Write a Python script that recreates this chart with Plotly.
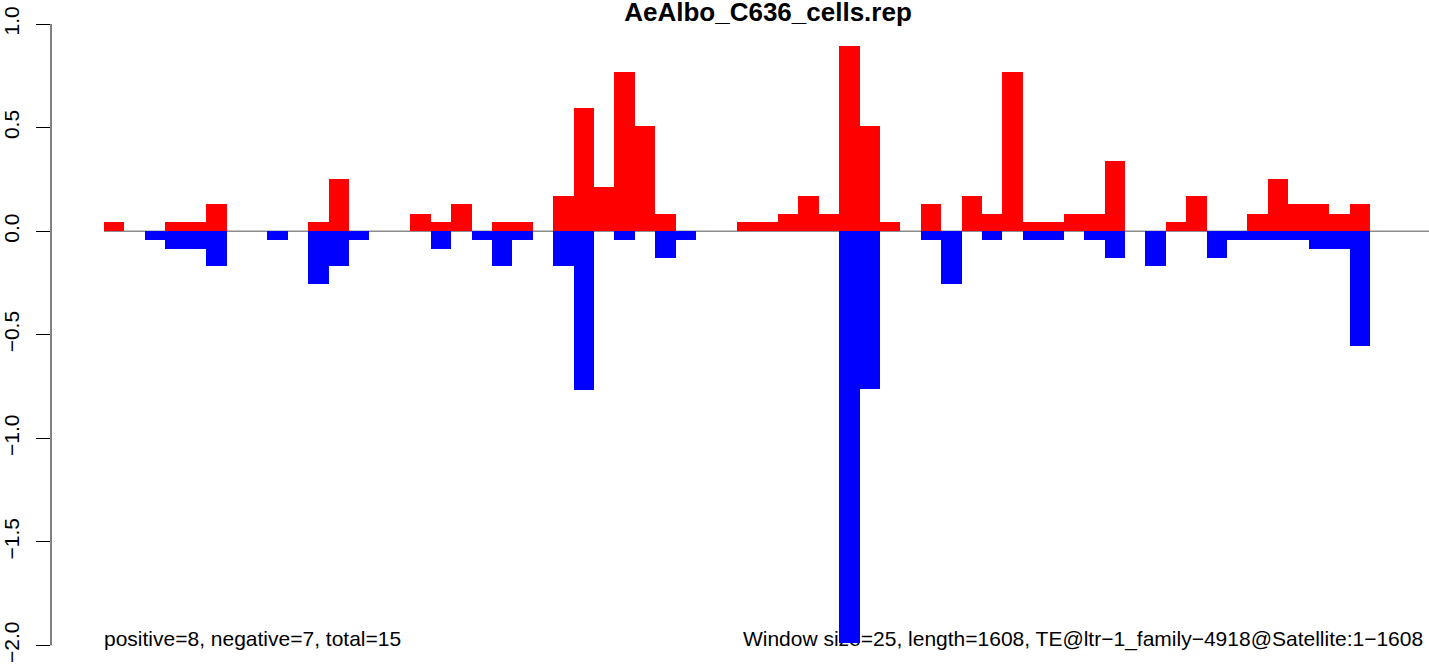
import plotly.graph_objects as go

# per-window values (25 bp windows)
positive = [0.042, 0, 0, 0.042, 0.042, 0.129, 0, 0, 0, 0,
            0.042, 0.254, 0, 0, 0, 0.085, 0.042, 0.129, 0, 0.042,
            0.042, 0, 0.172, 0.593, 0.211, 0.767, 0.51, 0.085, 0, 0,
            0, 0.042, 0.042, 0.085, 0.172, 0.085, 0.892, 0.51, 0.042, 0,
            0.129, 0, 0.172, 0.085, 0.767, 0.042, 0.042, 0.085, 0.085, 0.341,
            0, 0, 0.042, 0.172, 0, 0, 0.085, 0.254, 0.129, 0.129,
            0.085, 0.129]
negative = [0, 0, -0.042, -0.085, -0.085, -0.17, 0, 0, -0.042, 0,
            -0.254, -0.17, -0.042, 0, 0, 0, -0.085, 0, -0.042, -0.17,
            -0.042, 0, -0.17, -0.765, 0, -0.042, 0, -0.129, -0.042, 0,
            0, 0, 0, 0, 0, 0, -1.99, -0.763, 0, 0,
            -0.042, -0.254, 0, -0.042, 0, -0.042, -0.042, 0, -0.042, -0.129,
            0, -0.17, 0, 0, -0.129, -0.042, -0.042, -0.042, -0.042, -0.085,
            -0.085, -0.552]
windows = [i + 0.5 for i in range(len(positive))]

y_ticks = [-2.0, -1.5, -1.0, -0.5, 0.0, 0.5, 1.0]
title = "AeAlbo_C636_cells.rep"
left_note = "positive=8, negative=7, total=15"
right_note = "Window size=25, length=1608, TE@ltr\u22121_family\u22124918@Satellite:1\u22121608"

font = "Liberation Sans, Arial, Helvetica, sans-serif"
x_range = [-2.595, 64.89]
y_range = [-2.099, 1.116]

fig = go.Figure()

# notes go on the base subplot so the bars (overlaid subplot) cover them, like in R
fig.add_trace(
    go.Scatter(
        x=[0, 31.29],
        y=[-1.975, -1.975],
        text=[left_note, right_note],
        mode="text",
        textposition="middle right",
        textfont=dict(family=font, size=21, color="black"),
        hoverinfo="skip",
        showlegend=False,
        cliponaxis=False,
    )
)

fig.add_trace(
    go.Bar(
        x=windows, y=positive, base=0, width=1,
        marker=dict(color="#ff0000", line=dict(width=0)),
        xaxis="x2", yaxis="y2", showlegend=False,
    )
)
fig.add_trace(
    go.Bar(
        x=windows, y=negative, base=0, width=1,
        marker=dict(color="#0000ff", line=dict(width=0)),
        xaxis="x2", yaxis="y2", showlegend=False,
    )
)

fig.update_layout(
    width=1429,
    height=666,
    margin=dict(l=51, r=0, t=0, b=0, autoexpand=False),
    paper_bgcolor="white",
    plot_bgcolor="white",
    barmode="overlay",
    bargap=0,
    font=dict(family=font, color="black"),
    title=dict(
        text="<b>" + title + "</b>",
        x=768 / 1429,
        xanchor="center",
        xref="container",
        y=1 - 12 / 666,
        yanchor="middle",
        font=dict(family=font, size=26, color="black"),
    ),
    xaxis=dict(range=x_range, visible=False, fixedrange=True, automargin=False),
    xaxis2=dict(range=x_range, visible=False, overlaying="x", matches="x"),
    yaxis=dict(
        range=y_range,
        automargin=False,
        tickvals=y_ticks,
        tickformat=".1f",
        ticks="outside",
        ticklen=14,
        tickwidth=1,
        tickcolor="black",
        tickangle=-90,
        ticklabelstandoff=9,
        tickfont=dict(family=font, size=21, color="black"),
        showgrid=False,
        zeroline=False,
        showline=False,
    ),
    yaxis2=dict(range=y_range, visible=False, overlaying="y", matches="y"),
    shapes=[
        # y axis line only between the first and last tick, as R draws it
        dict(type="line", xref="paper", x0=0, x1=0, yref="y", y0=-2, y1=1,
             line=dict(color="black", width=1)),
        # zero line from the first window onward
        dict(type="line", xref="x", x0=0, x1=x_range[1], yref="y", y0=0, y1=0,
             line=dict(color="#8c8c8c", width=1.5), layer="below"),
    ],
)

# the page's default body margin would shift the figure by 8px
fig.write_html(
    "out.html",
    config={"displayModeBar": False},
    post_script="document.body.style.margin='0';",
)
